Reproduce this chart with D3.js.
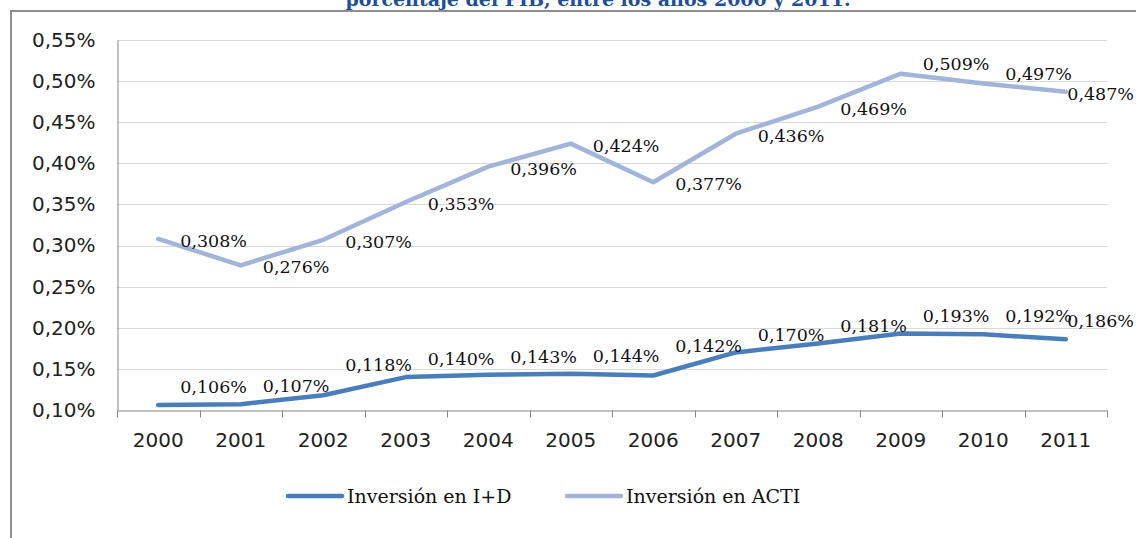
<!DOCTYPE html>
<html>
<head>
<meta charset="utf-8">
<script src="https://cdn.jsdelivr.net/npm/d3@7"></script>
<style>
  body { margin: 0; background: #fff; overflow: hidden; }
  svg { display: block; }
</style>
</head>
<body>
<div class="chart"></div>
<script>
// data
const years = ['2000', '2001', '2002', '2003', '2004', '2005', '2006', '2007', '2008', '2009', '2010', '2011'];
const inversionID = [0.106, 0.107, 0.118, 0.140, 0.143, 0.144, 0.142, 0.170, 0.181, 0.193, 0.192, 0.186];
const inversionACTI = [0.308, 0.276, 0.307, 0.353, 0.396, 0.424, 0.377, 0.436, 0.469, 0.509, 0.497, 0.487];
const yTicks = [0.10, 0.15, 0.20, 0.25, 0.30, 0.35, 0.40, 0.45, 0.50, 0.55];
const seriesNames = ['Inversión en I+D', 'Inversión en ACTI'];
const titleText = 'porcentaje del PIB, entre los años 2000 y 2011.';

const W = 1136, H = 538;
const margin = {top: 40, right: 29, bottom: 128, left: 117};
const colors = ['#4a7ebb', '#a2b5d8'];

const svg = d3.select('.chart')
    .append('svg')
    .attr('width', W)
    .attr('height', H);

// chart frame
svg.append('rect')
    .attr('x', 11).attr('y', 11)
    .attr('width', W + 20).attr('height', H + 20)
    .attr('fill', 'none')
    .attr('stroke', '#8e8e8e')
    .attr('stroke-width', 2);

// title (cut at top of the picture, like the source)
svg.append('text')
    .attr('x', 598).attr('y', 6)
    .attr('text-anchor', 'middle')
    .style('font-family', 'DejaVu Serif')
    .style('font-weight', 'bold')
    .style('font-size', '19px')
    .style('fill', '#1f5096')
    .text(titleText);

const x = d3.scaleBand()
    .domain(years)
    .range([margin.left, W - margin.right]);

const y = d3.scaleLinear()
    .domain([0.10, 0.55])
    .range([H - margin.bottom, margin.top]);

const fmt = v => d3.format('.2f')(v).replace('.', ',') + '%';
const fmt3 = v => d3.format('.3f')(v).replace('.', ',') + '%';

// gridlines
svg.append('g')
    .selectAll('line')
    .data(yTicks.slice(1))
    .enter()
    .append('line')
    .attr('x1', margin.left).attr('x2', W - margin.right)
    .attr('y1', d => Math.round(y(d)) + 0.5)
    .attr('y2', d => Math.round(y(d)) + 0.5)
    .attr('stroke', '#d9d9d9')
    .attr('stroke-width', 1);

// y axis
const yAxis = svg.append('g')
    .attr('transform', `translate(${margin.left + 0.5},0)`)
    .call(d3.axisLeft(y).tickValues(yTicks).tickFormat(fmt).tickSize(0).tickPadding(22));
yAxis.select('.domain').attr('stroke', '#868686');
yAxis.selectAll('text')
    .style('font-family', 'DejaVu Sans')
    .style('font-size', '20px')
    .style('fill', '#222');

// x axis
const xAxis = svg.append('g')
    .attr('transform', `translate(0,${Math.round(y(0.10)) + 0.5})`)
    .call(d3.axisBottom(x).tickSize(0).tickPadding(22));
xAxis.select('.domain').attr('stroke', '#868686');
xAxis.selectAll('text')
    .style('font-family', 'DejaVu Sans')
    .style('font-size', '20px')
    .style('fill', '#222');
xAxis.selectAll('.sep')
    .data(years.concat(['end']))
    .enter()
    .append('line')
    .attr('class', 'sep')
    .attr('x1', (d, i) => Math.round(margin.left + i * x.step()) + 0.5)
    .attr('x2', (d, i) => Math.round(margin.left + i * x.step()) + 0.5)
    .attr('y1', 0).attr('y2', 7)
    .attr('stroke', '#868686');

// lines
const cx = d => x(d) + x.bandwidth() / 2;
const line = d3.line()
    .x((d, i) => cx(years[i]))
    .y(d => y(d));

[inversionACTI, inversionID].forEach((vals, k) => {
    svg.append('path')
        .datum(vals)
        .attr('d', line)
        .attr('fill', 'none')
        .attr('stroke', k === 0 ? colors[1] : colors[0])
        .attr('stroke-width', 4.5)
        .attr('stroke-linejoin', 'round')
        .attr('stroke-linecap', 'round');
});

// data labels, right of each point, kept inside the chart area
// and lifted when they would sit on the next segment
function addLabels(vals, dy) {
    svg.append('g')
        .selectAll('text')
        .data(vals)
        .enter()
        .append('text')
        .attr('y', (d, i) => {
            let ly = y(d) + dy;
            if (i < vals.length - 1) {
                const segY = y(d) + (y(vals[i + 1]) - y(d)) * 0.66;
                if (Math.abs(segY - ly) < 11) ly -= 12;
            }
            return ly;
        })
        .attr('dy', '0.35em')
        .style('font-family', 'DejaVu Serif')
        .style('font-size', '17.5px')
        .style('fill', '#111')
        .text(d => fmt3(d))
        .attr('x', function(d, i) {
            const w = this.getComputedTextLength();
            return Math.min(cx(years[i]) + 22, W - 2 - w);
        });
}
addLabels(inversionACTI, 2);
addLabels(inversionID, -18);

// legend
const legend = svg.append('g').attr('transform', 'translate(0,496)');
const legX = [288, 567];
seriesNames.forEach((name, i) => {
    legend.append('line')
        .attr('x1', legX[i]).attr('x2', legX[i] + 54)
        .attr('y1', 0).attr('y2', 0)
        .attr('stroke', colors[i])
        .attr('stroke-width', 4.5)
        .attr('stroke-linecap', 'round');
    legend.append('text')
        .attr('x', legX[i] + 59)
        .attr('y', 0)
        .attr('dy', '0.35em')
        .style('font-family', 'DejaVu Serif')
        .style('font-size', '19px')
        .style('fill', '#111')
        .text(name);
});
</script>
</body>
</html>
